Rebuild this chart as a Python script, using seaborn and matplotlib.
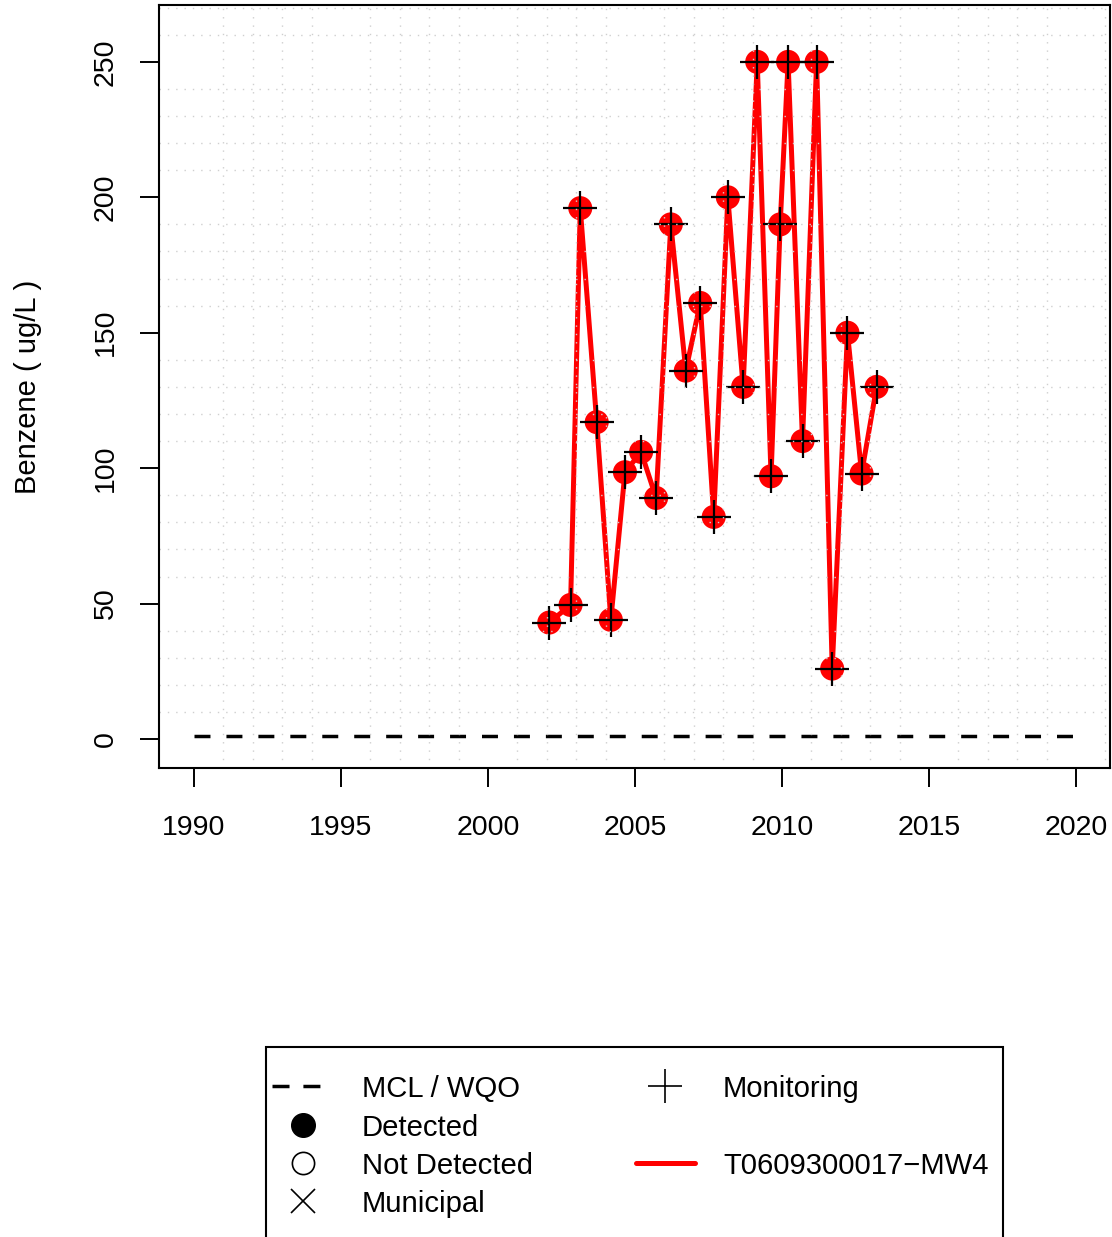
import matplotlib
matplotlib.use("Agg")
import matplotlib.pyplot as plt
import seaborn as sns
import pandas as pd
from matplotlib.lines import Line2D
from matplotlib.patches import Rectangle
from matplotlib.ticker import FixedLocator

# Benzene results for one monitoring well
well = "T0609300017\u2212MW4"
sample_year = [2002.085, 2002.81, 2003.14, 2003.70, 2004.18, 2004.66, 2005.21,
               2005.72, 2006.22, 2006.73, 2007.22, 2007.68, 2008.16, 2008.68,
               2009.16, 2009.63, 2009.94, 2010.21, 2010.70, 2011.18, 2011.71,
               2012.23, 2012.71, 2013.22]
benzene = [43, 49.5, 196, 117, 44, 98.5, 106, 89, 190, 136, 161, 82, 200, 130,
           250, 97, 190, 250, 110, 250, 26, 150, 98, 130]

# Regulatory limit (MCL / WQO) for benzene, ug/L
mcl_value = 1
mcl_years = [1990, 2020]

x_ticks = [1990, 1995, 2000, 2005, 2010, 2015, 2020]
y_ticks = [0, 50, 100, 150, 200, 250]
grid_years = list(range(1990, 2022))
grid_levels = list(range(0, 280, 10))
legend_left = ["MCL / WQO", "Detected", "Not Detected", "Municipal"]
legend_right = ["Monitoring", "", well, ""]

df = pd.DataFrame({"year": sample_year, "benzene": benzene})
mcl = pd.DataFrame({"year": mcl_years, "value": [mcl_value] * len(mcl_years)})

sns.set_style("white")
plt.rcParams["font.family"] = ["Liberation Sans", "DejaVu Sans"]
plt.rcParams["font.size"] = 20
plt.rcParams["text.color"] = "black"

W, H = 1112, 1237
fig = plt.figure(figsize=(W / 100, H / 100), dpi=100)
ax = fig.add_axes([159 / W, 1 - 768 / H, (1110 - 159) / W, (768 - 5) / H])

DASH = (4.6, 4.6)

# MCL reference line
sns.lineplot(data=mcl, x="year", y="value", ax=ax, color="black", lw=2.5,
             zorder=2)
ax.lines[-1].set_dashes(DASH)

# Concentration series
sns.lineplot(data=df, x="year", y="benzene", ax=ax, color="red", lw=3.6,
             zorder=3, estimator=None, sort=False)
sns.scatterplot(data=df, x="year", y="benzene", ax=ax, color="red", s=300,
                edgecolor="none", zorder=4)
sns.scatterplot(data=df, x="year", y="benzene", ax=ax, color="black",
                marker="+", s=600, linewidth=1.6, zorder=5)

ax.set_xlim(1988.81, 2021.16)
ax.set_ylim(-10.7, 271)
ax.set_xticks(x_ticks)
ax.set_yticks(y_ticks)
ax.set_xticklabels([str(t) for t in x_ticks])
ax.set_yticklabels([str(t) for t in y_ticks], rotation=90, va="center")
ax.xaxis.set_minor_locator(FixedLocator(grid_years))
ax.yaxis.set_minor_locator(FixedLocator(grid_levels))
ax.tick_params(axis="both", which="major", direction="out", length=13.7,
               width=1.4, color="black", labelsize=20.5, labelcolor="black")
ax.tick_params(axis="x", which="major", pad=20)
ax.tick_params(axis="y", which="major", pad=15.5)
ax.tick_params(axis="both", which="minor", length=0)
ax.tick_params(bottom=True, left=True, which="major")

# Dotted grid drawn above the data
ax.grid(False, which="major")
ax.grid(True, which="minor", color="#cfcfcf", linestyle=(0, (1, 5)), lw=1.0)
ax.xaxis.set_zorder(10)
ax.yaxis.set_zorder(10)

for s in ax.spines.values():
    s.set_color("black")
    s.set_linewidth(1.5)
    s.set_zorder(11)

ax.set_xlabel("")
ax.set_ylabel("Benzene ( ug/L )", fontsize=21, labelpad=36, color="black")

# Legend panel below the plot
def fx(x):
    return x / W


def fy(y):
    return 1 - y / H


fig.patches.append(Rectangle((fx(266), fy(1250)), fx(1003) - fx(266),
                             fy(1047) - fy(1250), transform=fig.transFigure,
                             facecolor="white", edgecolor="black", lw=1.5))

rows = [1086, 1125, 1163, 1201]
dl = Line2D([fx(272), fx(320)], [fy(rows[0])] * 2, transform=fig.transFigure,
            color="black", lw=2.5)
dl.set_dashes((4.9, 4.0))
fig.lines.append(dl)
fig.lines.append(Line2D([fx(303)], [fy(rows[1])], transform=fig.transFigure,
                        marker="o", markersize=17, color="black", ls="none"))
fig.lines.append(Line2D([fx(303)], [fy(rows[2])], transform=fig.transFigure,
                        marker="o", markersize=16, markerfacecolor="none",
                        markeredgecolor="black", markeredgewidth=1.2, ls="none"))
fig.lines.append(Line2D([fx(303)], [fy(rows[3])], transform=fig.transFigure,
                        marker="x", markersize=17, color="black",
                        markeredgewidth=1.2, ls="none"))
fig.lines.append(Line2D([fx(665)], [fy(rows[0])], transform=fig.transFigure,
                        marker="+", markersize=24, color="black",
                        markeredgewidth=1.2, ls="none"))
fig.lines.append(Line2D([fx(636), fx(695)], [fy(rows[2])] * 2,
                        transform=fig.transFigure, color="red", lw=3.6,
                        solid_capstyle="round"))

for y, lab in zip(rows, legend_left):
    fig.text(fx(362), fy(y), lab, ha="left", va="center_baseline",
             fontsize=21.1, color="black")
for y, lab in zip(rows, legend_right):
    if lab:
        fig.text(fx(723), fy(y), lab, ha="left", va="center_baseline",
                 fontsize=21.1, color="black")

fig.savefig("out.png", dpi=100)
